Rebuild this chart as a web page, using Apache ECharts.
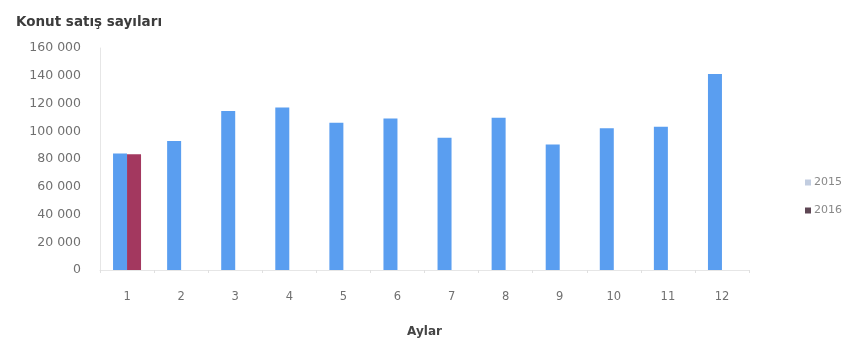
<!DOCTYPE html>
<html>
<head>
<meta charset="utf-8">
<script src="https://cdn.jsdelivr.net/npm/echarts@6/dist/echarts.min.js"></script>
<style>html,body{margin:0;padding:0;background:#fff}#c{width:844px;height:345px}</style>
</head>
<body>
<div id="c"></div>
<script>
const months = ['1','2','3','4','5','6','7','8','9','10','11','12'];
const sales2015 = [83900, 92900, 114600, 117200, 106200, 109100, 95300, 109800, 90500, 102100, 103300, 141200];
const sales2016 = [83500, null, null, null, null, null, null, null, null, null, null, null];
const seriesNames = ['2015', '2016'];
const yTicks = [0, 20000, 40000, 60000, 80000, 100000, 120000, 140000, 160000];

const chart = echarts.init(document.getElementById('c'), null, {renderer: 'canvas'});
const font = 'DejaVu Sans';
chart.setOption({
  animation: false,
  backgroundColor: '#ffffff',
  title: {
    text: 'Konut satış sayıları',
    left: 11, top: 10,
    textStyle: {fontFamily: font, fontSize: 13.5, fontWeight: 'bold', color: '#3c3c3c'}
  },
  legend: {
    orient: 'vertical',
    left: 800, top: 172,
    itemWidth: 6, itemHeight: 6, itemGap: 17,
    icon: 'rect',
    data: [
      {name: seriesNames[0], itemStyle: {color: '#c2cde0'}},
      {name: seriesNames[1], itemStyle: {color: '#5e4654'}}
    ],
    textStyle: {fontFamily: font, fontSize: 11, color: '#888888', padding: [0,0,0,-2]}
  },
  grid: {left: 100, right: 95, top: 48, bottom: 75, containLabel: false},
  xAxis: {
    type: 'category',
    data: months,
    name: 'Aylar',
    nameLocation: 'middle',
    nameGap: 56,
    nameTextStyle: {fontFamily: font, fontSize: 12, fontWeight: 'bold', color: '#454545'},
    axisLine: {show: true, lineStyle: {color: '#e6e6e6'}},
    axisTick: {show: true, length: 3, lineStyle: {color: '#e0e0e0'}},
    axisLabel: {fontFamily: font, fontSize: 11.5, color: '#707070', margin: 21}
  },
  yAxis: {
    type: 'value',
    min: yTicks[0], max: yTicks[yTicks.length - 1], interval: yTicks[1] - yTicks[0],
    axisLine: {show: true, lineStyle: {color: '#e6e6e6'}},
    axisTick: {show: false},
    splitLine: {show: false},
    axisLabel: {
      fontFamily: font, fontSize: 12.5, color: '#707070', margin: 19,
      formatter: v => String(v).replace(/\B(?=(\d{3})+(?!\d))/g, ' ')
    }
  },
  series: [
    {name: seriesNames[0], type: 'bar', data: sales2015, barWidth: 14, barGap: '0%',
     itemStyle: {color: '#5a9ef0'}},
    {name: seriesNames[1], type: 'bar', data: sales2016, barWidth: 14,
     itemStyle: {color: '#a3385f'}}
  ]
});
</script>
</body>
</html>
